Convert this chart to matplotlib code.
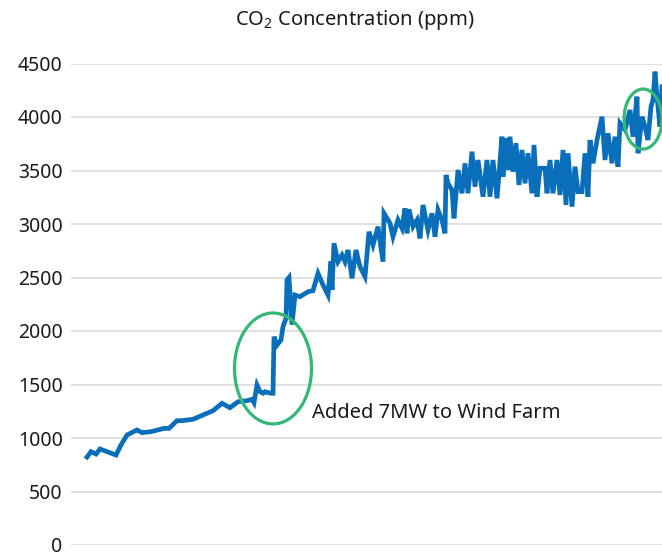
import matplotlib
matplotlib.use('Agg')
import matplotlib.pyplot as plt
from matplotlib.patches import Ellipse

plt.rcParams['font.family'] = ['Noto Sans', 'DejaVu Sans']
plt.rcParams['mathtext.fontset'] = 'custom'
plt.rcParams['mathtext.rm'] = 'Noto Sans'
plt.rcParams['mathtext.default'] = 'regular'

# --- data ---
days = [0, 4, 9, 13, 29, 34, 40, 50, 55, 64, 77, 82, 90, 95, 106, 120, 126, 135,
        143, 151, 160, 165, 167, 170, 173, 176, 178, 180, 184, 186, 187, 190, 194,
        196, 199, 200, 202, 205, 208, 213, 221, 226, 231, 236, 241, 244, 245, 247,
        251, 255, 258, 261, 265, 269, 273, 278, 282, 286, 291, 296, 297, 303, 306,
        311, 315, 318, 320, 322, 326, 330, 333, 336, 341, 345, 348, 351, 355, 358,
        359, 361, 365, 367, 371, 375, 378, 381, 385, 388, 391, 396, 400, 403, 406,
        410, 415, 416, 418, 421, 423, 426, 429, 432, 435, 438, 441, 445, 447, 450,
        453, 458, 460, 463, 466, 470, 473, 476, 479, 481, 485, 488, 491, 495, 498,
        501, 503, 506, 510, 515, 518, 521, 525, 528, 531, 533, 538, 543, 546, 550,
        551, 555, 558, 561, 564, 566, 568, 570, 573, 575]
co2_ppm = [822, 872, 850, 897, 841, 935, 1028, 1075, 1050, 1059, 1090, 1090, 1162,
           1162, 1175, 1231, 1255, 1324, 1283, 1339, 1349, 1361, 1330, 1495, 1433,
           1418, 1433, 1427, 1418, 1418, 1947, 1869, 1916, 2040, 2118, 2477, 2500,
           2060, 2336, 2321, 2367, 2377, 2539, 2430, 2336, 2650, 2383, 2820, 2648,
           2710, 2648, 2757, 2492, 2757, 2601, 2508, 2928, 2804, 2975, 2648, 3100,
           3007, 2881, 3037, 2960, 3147, 2913, 3137, 2975, 3037, 2866, 3178, 2944,
           3100, 2881, 3131, 3037, 2913, 3458, 3380, 3318, 3053, 3505, 3287, 3567,
           3287, 3676, 3349, 3598, 3255, 3598, 3255, 3598, 3240, 3816, 3442, 3801,
           3505, 3816, 3489, 3755, 3365, 3692, 3380, 3661, 3287, 3739, 3255, 3521,
           3521, 3287, 3598, 3287, 3598, 3271, 3692, 3178, 3661, 3162, 3536, 3302,
           3302, 3661, 3255, 3785, 3567, 3785, 4003, 3598, 3848, 3567, 3816, 3536,
           3941, 3879, 4066, 3816, 4190, 3661, 4003, 3910, 3785, 4097, 4159, 4424,
           4190, 3910, 4283]
y_ticks = [0, 500, 1000, 1500, 2000, 2500, 3000, 3500, 4000, 4500]

title = 'CO$_2$ Concentration (ppm)'
note = 'Added 7MW to Wind Farm'

line_color = '#0a6fba'
ring_color = '#33b877'
text_color = '#1a1a1a'

fig = plt.figure(figsize=(6.62, 5.56), dpi=100)
ax = fig.add_axes([71 / 662, 11 / 556, 1 - 71 / 662, (545 - 63.5) / 556])

ax.plot(days, co2_ppm, color=line_color, lw=3.4, solid_joinstyle='miter', zorder=3)

ax.set_xlim(-16, 575)
ax.set_ylim(0, 4500)
ax.set_yticks(y_ticks)
ax.set_xticks([])
ax.grid(axis='y', color='#d9d9d9', lw=1.1)
ax.set_axisbelow(True)
for s in ax.spines.values():
    s.set_visible(False)
ax.tick_params(axis='y', length=0, pad=6, labelsize=14, labelcolor=text_color)

# highlight rings
ax.add_patch(Ellipse((186, 1650), 77, 1037, fill=False, ec=ring_color, lw=2.3, zorder=4))
ax.add_patch(Ellipse((556, 3981), 38, 561, fill=False, ec=ring_color, lw=2.3, zorder=4))

ax.text(225, 1234, note, fontsize=14.5, color=text_color, va='center', ha='left')

fig.text(355 / 662, 1 - 20 / 556, title, fontsize=14.5, color=text_color,
         ha='center', va='center')

fig.savefig('out.png', dpi=100)
